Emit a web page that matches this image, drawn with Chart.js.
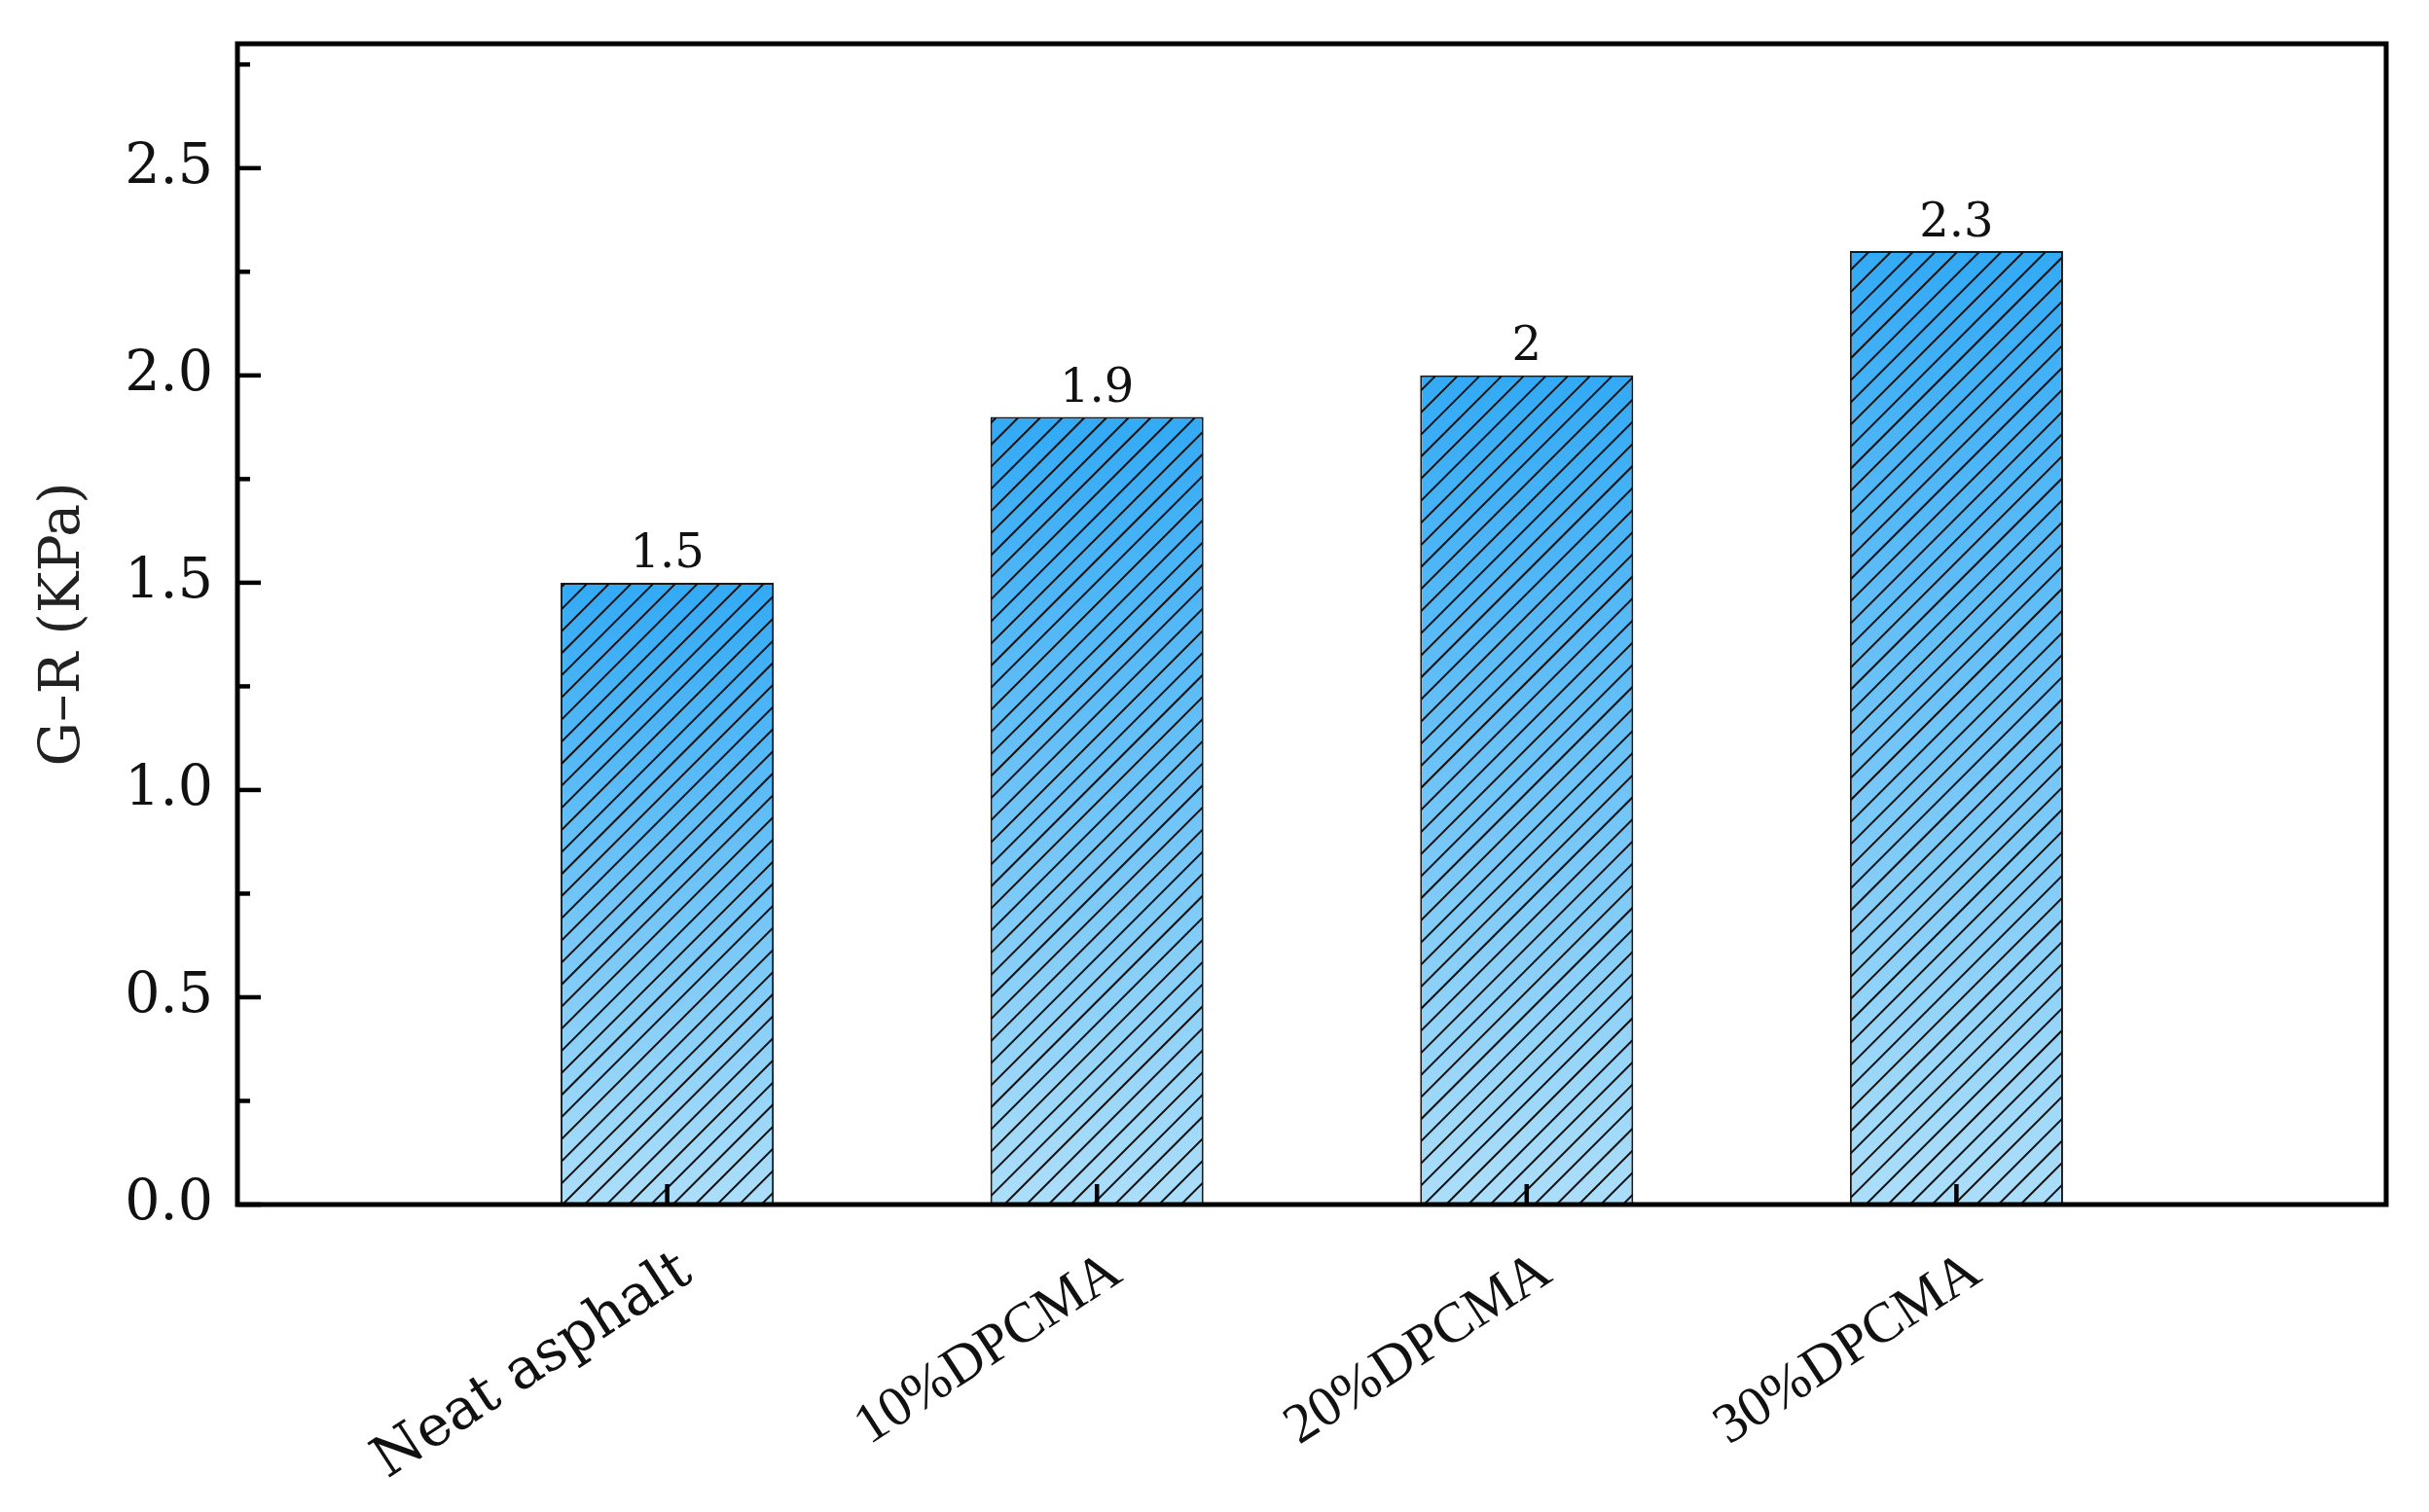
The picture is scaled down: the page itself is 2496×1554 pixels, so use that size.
<!DOCTYPE html>
<html>
<head>
<meta charset="utf-8">
<script src="https://cdn.jsdelivr.net/npm/chart.js@4.4.1/dist/chart.umd.min.js"></script>
<style>
  html, body { margin: 0; padding: 0; background: #ffffff; }
  #wrap { width: 2496px; height: 1554px; }
</style>
</head>
<body>
<div id="wrap"><canvas id="c" width="2496" height="1554"></canvas></div>
<script>
// ---- data ----
const categories = ['Neat asphalt', '10%DPCMA', '20%DPCMA', '30%DPCMA'];
const values = [1.5, 1.9, 2, 2.3];
const yMajorTicks = [0, 0.5, 1.0, 1.5, 2.0, 2.5];
const yMinorTicks = [0.25, 0.75, 1.25, 1.75, 2.25, 2.75];
const yTitle = 'G\u2013R (KPa)';
const yMin = 0, yMax = 2.8;

// padded category slots so bars sit at positions 1..4 of 0..5
const xLabels = [''].concat(categories, ['']);
const xData = [null].concat(values, [null]);

const TOP_COLOR = '#33aaf5';
const BOTTOM_COLOR = '#acdef9';

function barGradient(ctx) {
  const chart = ctx.chart;
  if (!chart.chartArea || ctx.type !== 'data' || ctx.raw == null) return TOP_COLOR;
  const ys = chart.scales.y;
  const top = ys.getPixelForValue(ctx.raw);
  const base = ys.getPixelForValue(0);
  const g = chart.ctx.createLinearGradient(0, top, 0, base);
  g.addColorStop(0, TOP_COLOR);
  g.addColorStop(1, BOTTOM_COLOR);
  return g;
}

function zeroPadding(scale) {
  scale.paddingLeft = 0; scale.paddingRight = 0;
  scale.paddingTop = 0; scale.paddingBottom = 0;
}

const decorPlugin = {
  id: 'decor',
  afterDatasetsDraw(chart) {
    const ctx = chart.ctx;
    const meta = chart.getDatasetMeta(0);
    meta.data.forEach((el, i) => {
      const v = chart.data.datasets[0].data[i];
      if (v == null) return;
      const p = el.getProps(['x', 'y', 'base', 'width'], true);
      const l = p.x - p.width / 2 + 1, r = p.x + p.width / 2 - 1;
      const t = p.y + 1, b = p.base;
      // hatch
      ctx.save();
      ctx.beginPath();
      ctx.rect(l, t, r - l, b - t);
      ctx.clip();
      ctx.strokeStyle = '#111';
      ctx.lineWidth = 2;
      const step = 22.7;
      const c0 = Math.floor((l + t) / step) * step;
      ctx.beginPath();
      for (let c = c0; c <= r + b + step; c += step) {
        ctx.moveTo(c - b, b);
        ctx.lineTo(c - t, t);
      }
      ctx.stroke();
      ctx.restore();
      // value label
      ctx.save();
      ctx.fillStyle = '#111';
      ctx.font = '48px "DejaVu Serif"';
      ctx.textAlign = 'center';
      ctx.textBaseline = 'bottom';
      ctx.fillText(String(v), p.x, p.y - 4);
      ctx.restore();
    });
  },
  afterDraw(chart) {
    const ctx = chart.ctx;
    const a = chart.chartArea;
    const ys = chart.scales.y, xs = chart.scales.x;
    ctx.save();
    ctx.strokeStyle = '#000';
    ctx.lineCap = 'butt';
    // y ticks (inward)
    ctx.lineWidth = 4.5;
    yMajorTicks.forEach(v => {
      const py = ys.getPixelForValue(v);
      ctx.beginPath(); ctx.moveTo(a.left, py); ctx.lineTo(a.left + 24, py); ctx.stroke();
    });
    yMinorTicks.forEach(v => {
      const py = ys.getPixelForValue(v);
      ctx.beginPath(); ctx.moveTo(a.left, py); ctx.lineTo(a.left + 13, py); ctx.stroke();
    });
    // x ticks (inward) at categories
    categories.forEach((c, i) => {
      const px = xs.getPixelForValue(i + 1);
      ctx.beginPath(); ctx.moveTo(px, a.bottom); ctx.lineTo(px, a.bottom - 21); ctx.stroke();
    });
    // frame
    ctx.lineWidth = 5;
    ctx.strokeRect(a.left, a.top, a.right - a.left, a.bottom - a.top);
    ctx.restore();
  }
};

new Chart(document.getElementById('c'), {
  type: 'bar',
  data: {
    labels: xLabels,
    datasets: [{
      data: xData,
      backgroundColor: barGradient,
      borderColor: '#1a1a1a',
      borderWidth: 2,
      borderSkipped: 'bottom',
      categoryPercentage: 1.0,
      barPercentage: 0.496
    }]
  },
  options: {
    responsive: false,
    devicePixelRatio: 1,
    animation: false,
    layout: { padding: { top: 45, right: 44, left: 0, bottom: 0 } },
    plugins: { legend: { display: false }, tooltip: { enabled: false } },
    scales: {
      x: {
        type: 'category',
        offset: false,
        grid: { display: false, drawTicks: false, offset: false },
        border: { display: false },
        ticks: {
          autoSkip: false,
          minRotation: 33,
          maxRotation: 33,
          padding: 35,
          labelOffset: 20,
          color: '#111',
          font: (ctx) => (ctx.index === 1
            ? { family: '"DejaVu Serif"', size: 58 }
            : { family: '"Liberation Serif"', size: 58 })
        },
        afterFit(scale) { scale.height = 316; zeroPadding(scale); }
      },
      y: {
        type: 'linear',
        min: yMin,
        max: yMax,
        grid: { display: false, drawTicks: false },
        border: { display: false },
        afterBuildTicks(scale) {
          scale.ticks = yMajorTicks.concat(yMinorTicks).sort((a, b) => a - b).map(v => ({ value: v }));
        },
        ticks: {
          padding: 25,
          color: '#111',
          font: { family: '"DejaVu Serif"', size: 57 },
          callback: (v) => (yMajorTicks.some(m => Math.abs(m - v) < 1e-9) ? Number(v).toFixed(1) : '')
        },
        title: {
          display: true,
          text: yTitle,
          color: '#222',
          font: { family: '"DejaVu Serif"', size: 57 },
          padding: { top: 32, bottom: 0 }
        },
        afterFit(scale) { scale.width = 244; zeroPadding(scale); }
      }
    }
  },
  plugins: [decorPlugin]
});
</script>
</body>
</html>
